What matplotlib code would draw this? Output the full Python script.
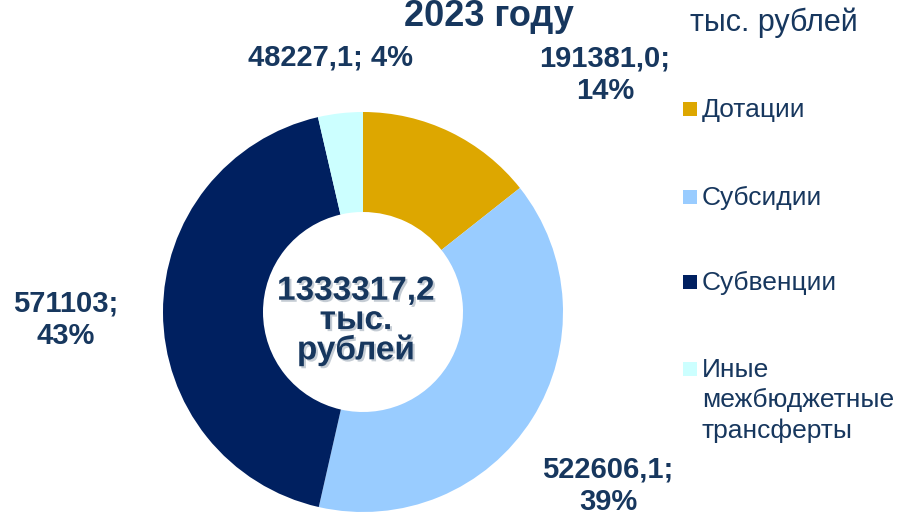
import matplotlib
matplotlib.use("Agg")
import matplotlib.pyplot as plt
import matplotlib.patheffects as pe
from matplotlib.patches import Rectangle

plt.rcParams['font.family'] = ['Liberation Sans', 'DejaVu Sans']

categories = ["Дотации", "Субсидии", "Субвенции", "Иные\nмежбюджетные\nтрансферты"]
values = [191381.0, 522606.1, 571103.0, 48227.1]
value_labels = ["191381,0;\n14%", "522606,1;\n39%", "571103;\n43%", "48227,1; 4%"]
total_label = "1333317,2\nтыс.\nрублей"
colors = ["#DDA700", "#99CCFF", "#002060", "#CCFFFF"]

W, H = 902, 515
TXT = "#17375E"

fig = plt.figure(figsize=(W / 100, H / 100), dpi=100)

# donut: center (363, 312) px, radius ~200 px
cx, cy, r = 363, 312, 200
ax = fig.add_axes([(cx - r) / W, (H - cy - r) / H, 2 * r / W, 2 * r / H])
wedges, _ = ax.pie(values, colors=colors, startangle=90, counterclock=False,
                   radius=1.0, wedgeprops=dict(width=0.5, linewidth=0))
for w in wedges:
    w.set_clip_on(False)
ax.set_xlim(-1, 1)
ax.set_ylim(-1, 1)
ax.set_aspect("equal")

# data labels (pixel positions of label centres)
label_pos = [(605, 75), (608, 486), (66, 320), (331, 57)]
for lab, (x, y) in zip(value_labels, label_pos):
    fig.text(x / W, 1 - y / H, lab, ha="center", va="center", fontsize=21,
             fontweight="bold", color=TXT, linespacing=1.22)

# centre total
fig.text(356 / W, 1 - 321 / H, total_label, ha="center", va="center",
         fontsize=24, fontweight="bold", color=TXT, linespacing=0.93,
         path_effects=[pe.SimplePatchShadow(offset=(1.5, -1.5), shadow_rgbFace="#7f8fa0", alpha=0.45),
                       pe.Normal()])

# title (cut at top, as in the source) and units
fig.text(489 / W, 1 - 16 / H, "2023 году", ha="center", va="center",
         fontsize=26, fontweight="bold", color=TXT)
fig.text(774 / W, 1 - 23 / H, "тыс. рублей", ha="center", va="center",
         fontsize=22, color=TXT)

# legend
legend_y = [109, 197, 282, 369]
for cat, col, y in zip(categories, colors, legend_y):
    fig.patches.append(Rectangle((683 / W, 1 - (y + 7) / H), 14 / W, 14 / H,
                                 transform=fig.transFigure, facecolor=col,
                                 edgecolor="none"))
    fig.text(702 / W, 1 - (y - 11) / H, cat, ha="left", va="top",
             fontsize=19, color=TXT, linespacing=1.33)

fig.savefig("out.png", dpi=100)
